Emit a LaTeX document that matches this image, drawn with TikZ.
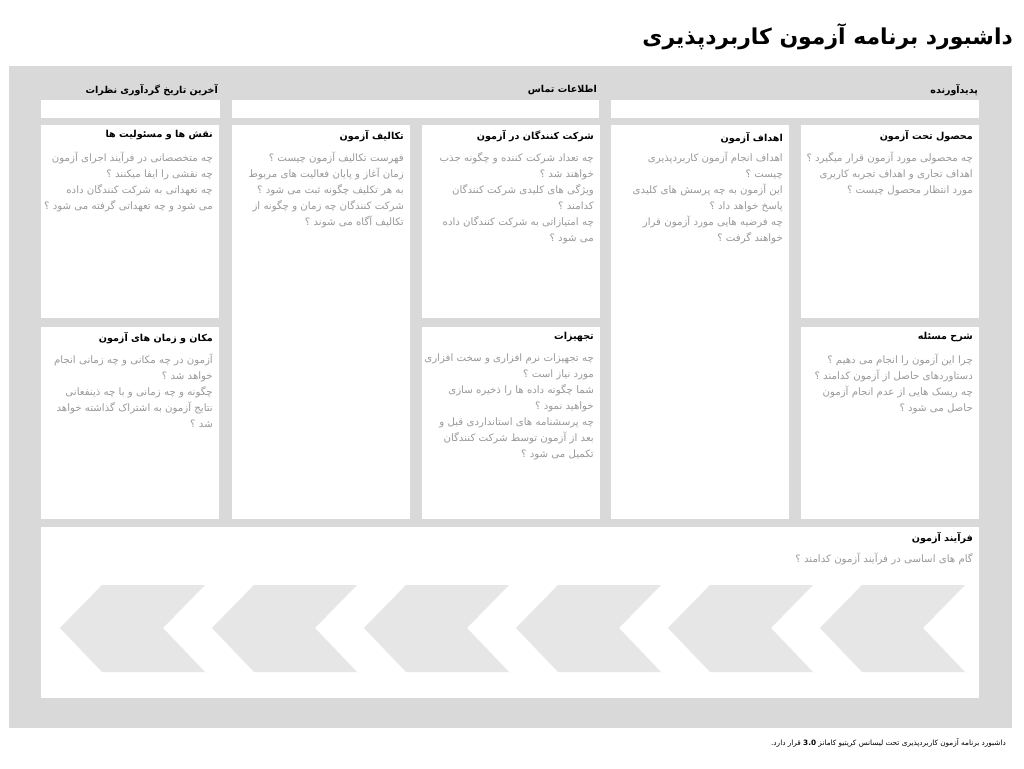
\documentclass[tikz,border=0pt]{standalone}
\usepackage{fontspec}
\TeXXeTstate=1
\newfontfamily\fa[Script=Arabic]{DejaVu Sans}
\newcommand\RL[1]{\beginR #1\endR}
\definecolor{panelgray}{HTML}{D9D9D9}
\definecolor{chevgray}{HTML}{E6E6E6}
\definecolor{bodygray}{HTML}{999999}
\tikzset{
  card/.style={fill=white, draw=none},
  cardtitle/.style={anchor=north east, inner sep=0pt, align=right, font=\fa\bfseries\fontsize{9.6}{12}\selectfont, text=black},
  cardbody/.style={anchor=north east, inner sep=0pt, align=right, font=\fa\fontsize{10.2}{16}\selectfont, text=bodygray},
  headlabel/.style={anchor=east, inner sep=0pt, font=\fa\bfseries\fontsize{9.5}{12}\selectfont, text=black},
  chev/.style={fill=chevgray, draw=none}
}
\begin{document}
\begin{tikzpicture}[x=1pt,y=-1pt]
\useasboundingbox (0,0) rectangle (1024,768);
% title
\node[anchor=east, inner sep=0pt, font=\fa\bfseries\fontsize{21.9}{26}\selectfont] (title) at (1013,37) {\RL{داشبورد برنامه آزمون کاربردپذیری}};
% panel
\fill[panelgray] (9,66) rectangle (1012,728);
% header row
\node[headlabel] (hcreator) at (978,90) {\RL{پدیدآورنده}};
\node[headlabel] (hcontact) at (597,90) {\RL{اطلاعات تماس}};
\node[headlabel] (hdate) at (218,90) {\RL{آخرین تاریخ گردآوری نظرات}};
\fill[card] (611,100) rectangle (979,118);
\fill[card] (232,100) rectangle (599,118);
\fill[card] (41,100) rectangle (220,118);
% cards
\fill[card] (801,125) rectangle (979,318);
\fill[card] (801,327) rectangle (979,519);
\fill[card] (611,125) rectangle (789,519);
\fill[card] (422,125) rectangle (600,318);
\fill[card] (422,327) rectangle (600,519);
\fill[card] (232,125) rectangle (410,519);
\fill[card] (41,125) rectangle (219,318);
\fill[card] (41,327) rectangle (219,519);
\fill[card] (41,527) rectangle (979,698);
% card texts
\node[cardtitle] (t1) at (973,130) {\RL{محصول تحت آزمون}};
\node[cardbody] (b1) at (973,152) {\RL{چه محصولی مورد آزمون قرار میگیرد ؟}\\\RL{اهداف تجاری و اهداف تجربه کاربری}\\\RL{مورد انتظار محصول چیست ؟}};
\node[cardtitle] (t2) at (783,132) {\RL{اهداف آزمون}};
\node[cardbody] (b2) at (783,152) {\RL{اهداف انجام آزمون کاربردپذیری}\\\RL{چیست ؟}\\\RL{این آزمون به چه پرسش های کلیدی}\\\RL{پاسخ خواهد داد ؟}\\\RL{چه فرضیه هایی مورد آزمون قرار}\\\RL{خواهند گرفت ؟}};
\node[cardtitle] (t3) at (594,130) {\RL{شرکت کنندگان در آزمون}};
\node[cardbody] (b3) at (594,152) {\RL{چه تعداد شرکت کننده و چگونه جذب}\\\RL{خواهند شد ؟}\\\RL{ویژگی های کلیدی شرکت کنندگان}\\\RL{کدامند ؟}\\\RL{چه امتیازاتی به شرکت کنندگان داده}\\\RL{می شود ؟}};
\node[cardtitle] (t4) at (404,130) {\RL{تکالیف آزمون}};
\node[cardbody] (b4) at (404,152) {\RL{فهرست تکالیف آزمون چیست ؟}\\\RL{زمان آغاز و پایان فعالیت های مربوط}\\\RL{به هر تکلیف چگونه ثبت می شود ؟}\\\RL{شرکت کنندگان چه زمان و چگونه از}\\\RL{تکالیف آگاه می شوند ؟}};
\node[cardtitle] (t5) at (213,130) {\RL{نقش ها و مسئولیت ها}};
\node[cardbody] (b5) at (213,152) {\RL{چه متخصصانی در فرآیند اجرای آزمون}\\\RL{چه نقشی را ایفا میکنند ؟}\\\RL{چه تعهداتی به شرکت کنندگان داده}\\\RL{می شود و چه تعهداتی گرفته می شود ؟}};
\node[cardtitle] (t6) at (973,332) {\RL{شرح مسئله}};
\node[cardbody] (b6) at (973,354) {\RL{چرا این آزمون را انجام می دهیم ؟}\\\RL{دستاوردهای حاصل از آزمون کدامند ؟}\\\RL{چه ریسک هایی از عدم انجام آزمون}\\\RL{حاصل می شود ؟}};
\node[cardtitle] (t7) at (594,332) {\RL{تجهیزات}};
\node[cardbody] (b7) at (594,354) {\RL{چه تجهیزات نرم افزاری و سخت افزاری}\\\RL{مورد نیاز است ؟}\\\RL{شما چگونه داده ها را ذخیره سازی}\\\RL{خواهید نمود ؟}\\\RL{چه پرسشنامه های استانداردی قبل و}\\\RL{بعد از آزمون توسط شرکت کنندگان}\\\RL{تکمیل می شود ؟}};
\node[cardtitle] (t8) at (213,332) {\RL{مکان و زمان های آزمون}};
\node[cardbody] (b8) at (213,354) {\RL{آزمون در چه مکانی و چه زمانی انجام}\\\RL{خواهد شد ؟}\\\RL{چگونه و چه زمانی و با چه ذینفعانی}\\\RL{نتایج آزمون به اشتراک گذاشته خواهد}\\\RL{شد ؟}};
\node[cardtitle] (t9) at (973,532) {\RL{فرآیند آزمون}};
\node[cardbody] (b9) at (973,553) {\RL{گام های اساسی در فرآیند آزمون کدامند ؟}};
% chevrons
\foreach \i in {0,...,5}{
  \pgfmathsetmacro{\xa}{60+152*\i}
  \fill[chev] (\xa,628) -- (\xa+42,585) -- (\xa+145,585) -- (\xa+103,628) -- (\xa+145,672) -- (\xa+42,672) -- cycle;
}
% footer
\node[anchor=east, inner sep=0pt, font=\fa\fontsize{7.3}{9}\selectfont] (footer) at (1006,743) {\RL{داشبورد برنامه آزمون کاربردپذیری تحت لیسانس کریتیو کامانز \beginL\textbf{3.0}\endL{} قرار دارد.}};
\end{tikzpicture}
\end{document}
